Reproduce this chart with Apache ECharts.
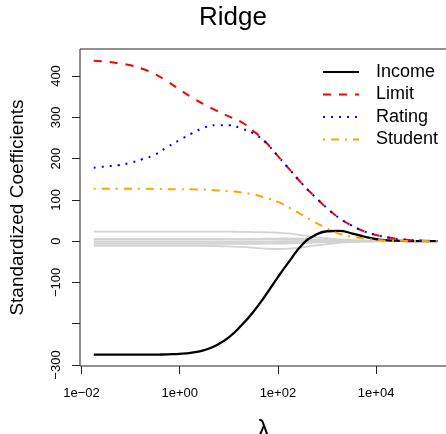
<!DOCTYPE html>
<html><head><meta charset="utf-8">
<script src="https://cdn.jsdelivr.net/npm/echarts@6/dist/echarts.min.js"></script>
<style>html,body{margin:0;padding:0;background:#fff}#c{width:446px;height:434px}</style>
</head><body><div id="c"></div>
<script>
// log10(lambda) grid
const logLambda = [-1.75,-1.5,-1.25,-1,-0.75,-0.5,-0.25,0,0.25,0.5,0.75,1,1.25,1.5,1.75,2,2.25,2.5,2.75,3,3.25,3.5,3.75,4,4.25,4.5,4.75,5,5.25];
const income  = [-275,-275,-275,-275,-275,-275,-274,-273,-270,-264,-252,-233,-205,-171,-131,-87,-46,-8,14,24,25,19,11,5,2,0.8,0.3,0.1,0];
const limit   = [437,435,431,426,417,404,387,367,348,331,316,302,289,267,240,206,172,138,108,80,56,38,24,15,9,4.5,2,1,0.5];
const rating  = [178,181,184,190,199,210,228,245,261,275,281,281,273,261,239,206,172,138,108,80,56,38,24,15,9,4.5,2,1,0.5];
const student = [127,127,127,127,127,126.5,126,126,125.5,125,123,121,118,113,105,95,80,63,46,31,18,11,7,3,1.5,0.7,0.3,0.1,0];
const cards     = [23,23,23,23,23,23,23,23,23,23,23,23,22.5,22,21.5,20.5,18,14,10,7,4.5,3,1.7,1,0.5,0.2,0.1,0,0];
const age       = [-11.5,-11.5,-11.5,-11.5,-11.5,-11.5,-11.5,-11.5,-11.5,-11.5,-12,-12.8,-14,-16,-18,-19,-18,-15,-11,-7,-4,-2.5,-1.3,-0.7,-0.3,-0.1,0,0,0];
const asian     = [5,5,5,5,5,5,5,5,5,5,5,5,5,5.3,5.8,6.3,6.5,5.8,4.5,3,2,1.2,0.7,0.4,0.2,0.1,0,0,0];
const caucasian = [4.5,4.5,4.5,4.5,4.5,4.5,4.5,4.5,4.5,4.5,4.5,4.5,4.5,4.4,4.2,4,3.5,3,2.2,1.5,1,0.6,0.3,0.2,0.1,0,0,0,0];
const married   = [-1,-1,-1,-1,-1,-1,-1,-1,-1,-1,-1,-1,-1,-1,-1,-1,-0.8,-0.6,-0.4,-0.3,-0.2,-0.1,0,0,0,0,0,0,0];
const education = [-1.5,-1.5,-1.5,-1.5,-1.5,-1.5,-1.5,-1.5,-1.5,-1.5,-1.5,-1.5,-1.5,-1.5,-1.5,-1.5,-1.4,-1.2,-1,-0.7,-0.5,-0.3,-0.2,-0.1,0,0,0,0,0];
const female    = [-6.5,-6.5,-6.5,-6.5,-6.5,-6.5,-6.5,-6.5,-6.5,-6.5,-6.5,-6.5,-6.5,-6.4,-6.2,-5.8,-5.4,-4.6,-3.6,-2.6,-1.7,-1,-0.6,-0.3,-0.1,0,0,0,0];

const xTicks = [-2,0,2,4];
const xTickLabels = ['1e\u221202','1e+00','1e+02','1e+04'];
const yTicks = [-300,-200,-100,0,100,200,300,400];
const yLabelValues = [-300,-100,0,100,200,300,400];

const F = '"Liberation Sans", Arial, Helvetica, sans-serif';
const toPts = arr => logLambda.map((x, i) => [x, arr[i]]);
const grayNames = ['Cards','Age','Education','Gender','Married','Asian','Caucasian'];
const grayVals = [cards, age, education, female, married, asian, caucasian];

const series = grayVals.map((v, k) => ({
  type: 'line', name: grayNames[k], data: toPts(v), symbol: 'none', showSymbol: false,
  smooth: 0.5, silent: true, z: 1,
  lineStyle: { color: '#d3d3d3', width: 1.8 }
}));
const main = [
  ['Income', income, '#000000', 'solid', 2.3],
  ['Limit', limit, '#ff0000', [8, 8], 2],
  ['Rating', rating, '#0000ff', [2, 6], 2],
  ['Student', student, '#ffa500', [2, 6, 8, 6], 2]
];
main.forEach(([name, v, color, type, w], k) => series.push({
  type: 'line', name, data: toPts(v), symbol: 'none', showSymbol: false,
  smooth: 0.5, silent: true, z: 2 + k,
  itemStyle: { color },
  lineStyle: { color, width: w, type }
}));

const chart = echarts.init(document.getElementById('c'), null, { renderer: 'canvas' });
chart.setOption({
  animation: false,
  backgroundColor: '#ffffff',
  title: {
    text: 'Ridge', left: 233, top: 5, textAlign: 'center', padding: 0,
    textStyle: { fontSize: 26, fontWeight: 'normal', fontFamily: F, color: '#000' }
  },
  legend: {
    data: ['Income', 'Limit', 'Rating', 'Student'],
    orient: 'vertical', left: 322, top: 63, padding: 0, itemWidth: 36, itemHeight: 18, itemGap: 4.5,
    selectedMode: false,
    itemStyle: { opacity: 0 },
    textStyle: { fontSize: 18, fontFamily: F, color: '#000', padding: [0, 0, 0, 12] }
  },
  grid: { left: 80, right: -1, top: 49, bottom: 68, show: true, borderColor: '#222', borderWidth: 1,
          backgroundColor: 'transparent', containLabel: false, outerBoundsMode: 'none' },
  xAxis: {
    type: 'value', min: -2.0305, max: 5.444,
    axisLine: { show: false, onZero: false }, splitLine: { show: false },
    axisTick: { show: true, length: 8, customValues: xTicks, lineStyle: { color: '#222' } },
    axisLabel: {
      customValues: xTicks, fontSize: 13, fontFamily: F, color: '#000', margin: 21,
      formatter: v => { const i = xTicks.findIndex(t => Math.abs(t - v) < 1e-6); return i >= 0 ? xTickLabels[i] : ''; }
    },
    name: '\u03bb', nameLocation: 'middle', nameGap: 53,
    nameTextStyle: { fontSize: 25, fontFamily: F, color: '#000' }
  },
  yAxis: {
    type: 'value', min: -302.4, max: 465.4,
    axisLine: { show: false, onZero: false }, splitLine: { show: false },
    axisTick: { show: true, length: 8, customValues: yTicks, lineStyle: { color: '#222' } },
    axisLabel: {
      customValues: yLabelValues, rotate: 90, fontSize: 13, fontFamily: F, color: '#000', margin: 17,
      formatter: v => (v < 0 ? '\u2212' + Math.abs(v) : String(v))
    },
    name: 'Standardized Coefficients', nameLocation: 'middle', nameGap: 53,
    nameTextStyle: { fontSize: 19, fontFamily: F, color: '#000' }
  },
  series
});
</script></body></html>
